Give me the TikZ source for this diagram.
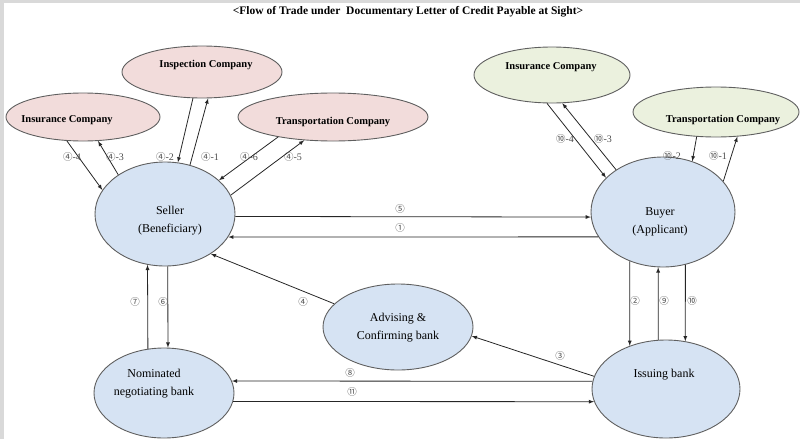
\documentclass[tikz,border=0pt]{standalone}
\usepackage{fontspec}
\setmainfont{Liberation Serif}
\newfontfamily\circfont{Noto Sans CJK SC}
\usepackage{xcolor}
\usetikzlibrary{arrows,shapes.geometric}
\definecolor{pinkfill}{HTML}{F2DCDB}
\definecolor{greenfill}{HTML}{EBF1DE}
\definecolor{bluefill}{HTML}{D6E3F3}
\definecolor{rim}{HTML}{5F5F5F}
\definecolor{framegray}{HTML}{D9D9D9}
\newcommand{\encl}[1]{{\circfont\fontsize{9.5}{10}\selectfont #1}}

\begin{document}
\begin{tikzpicture}[x=1pt,y=-1pt,>=latex,
	blob/.style={ellipse,draw=rim,line width=0.9pt,inner sep=0pt},
	pinkco/.style={blob,fill=pinkfill},
	greenco/.style={blob,fill=greenfill},
	party/.style={blob,fill=bluefill},
	coname/.style={font=\fontsize{10.5}{12}\selectfont\bfseries},
	pname/.style={font=\fontsize{12}{18}\selectfont,align=center},
	num/.style={font=\fontsize{10}{10}\selectfont,text=black!70,inner sep=0pt},
	flow/.style={->,line width=0.8pt,draw=black!85}]
	\useasboundingbox (0,0) rectangle (800,439);
	\fill[framegray] (0,0) rectangle (800,3);
	\fill[framegray] (0,0) rectangle (4,439);

	\node[font=\fontsize{11.5}{13}\selectfont\bfseries] (title) at (408,12) {\textless Flow of Trade under\ \ Documentary Letter of Credit Payable at Sight\textgreater};

	\node[pinkco,minimum width=154,minimum height=48] (insL) at (83,117) {};
	\node[pinkco,minimum width=160,minimum height=52] (insp) at (202,72) {};
	\node[pinkco,minimum width=190,minimum height=48] (trL) at (333,117) {};
	\node[greenco,minimum width=156,minimum height=56] (insR) at (552,75) {};
	\node[greenco,minimum width=166,minimum height=50] (trR) at (716,112) {};
	\node[party,minimum width=140,minimum height=104] (seller) at (165,214) {};
	\node[party,minimum width=144,minimum height=110] (buyer) at (663,212) {};
	\node[party,minimum width=150,minimum height=86] (adv) at (398,327) {};
	\node[party,minimum width=140,minimum height=90] (nom) at (164,393) {};
	\node[party,minimum width=148,minimum height=98] (iss) at (666,389) {};

	\node[coname] (tInsL) at (67,120) {Insurance Company};
	\node[coname] (tInsp) at (206,65) {Inspection Company};
	\node[coname] (tTrL) at (333,122) {Transportation Company};
	\node[coname] (tInsR) at (551,67) {Insurance Company};
	\node[coname] (tTrR) at (723,120) {Transportation Company};
	\node[pname] (tSeller) at (170,221) {Seller\\(Beneficiary)};
	\node[pname] (tBuyer) at (660,222) {Buyer\\(Applicant)};
	\node[pname] (tAdv) at (398,328) {Advising \&\\Confirming bank};
	\node[pname] (tNom) at (154,384) {Nominated\\negotiating bank};
	\node[pname] (tIss) at (664,375) {Issuing bank};

	\draw[flow] (seller.-2) -- (buyer.184);
	\draw[flow] (buyer.201) -- (seller.-20);
	\draw[flow] (adv.160) -- (seller.-41);
	\draw[flow] (iss.170) -- (adv.-7);
	\draw[flow] (iss.174) -- (nom.10);
	\draw[flow] (nom.-7) -- (iss.190);
	\draw[flow] (nom.110) -- (seller.251);
	\draw[flow] (seller.273) -- (nom.85);
	\draw[flow] (buyer.236) -- (iss.130);
	\draw[flow] (iss.99) -- (buyer.265);
	\draw[flow] (buyer.293) -- (iss.68);
	\draw[flow] (insL.236) -- (seller.159);
	\draw[flow] (seller.140) -- (insL.302);
	\draw[flow] (insp.251) -- (seller.76);
	\draw[flow] (seller.63) -- (insp.283);
	\draw[flow] (trL.200) -- (seller.32);
	\draw[flow] (seller.16) -- (trL.219);
	\draw[flow] (insR.260) -- (buyer.149);
	\draw[flow] (buyer.138) -- (insR.290);
	\draw[flow] (trR.232) -- (buyer.60);
	\draw[flow] (buyer.27) -- (trR.311);

	\node[num] (n5) at (400,209) {\encl{⑤}};
	\node[num] (n1) at (400,228) {\encl{①}};
	\node[num] (n4) at (303,302) {\encl{④}};
	\node[num] (n3) at (560,356) {\encl{③}};
	\node[num] (n8) at (350,373) {\encl{⑧}};
	\node[num] (n11) at (352,392) {\encl{⑪}};
	\node[num] (n7) at (135,302) {\encl{⑦}};
	\node[num] (n6) at (163,302) {\encl{⑥}};
	\node[num] (n2) at (635,301) {\encl{②}};
	\node[num] (n9) at (664,301) {\encl{⑨}};
	\node[num] (n10) at (692,301) {\encl{⑩}};
	\node[num] (n4d) at (72,157) {\encl{④}-4};
	\node[num] (n4c) at (115,157) {\encl{④}-3};
	\node[num] (n4b) at (165,157) {\encl{④}-2};
	\node[num] (n4a) at (210,157) {\encl{④}-1};
	\node[num] (n4f) at (249,157) {\encl{④}-6};
	\node[num] (n4e) at (293,157) {\encl{④}-5};
	\node[num] (n10d) at (565,139) {\encl{⑩}-4};
	\node[num] (n10c) at (603,139) {\encl{⑩}-3};
	\node[num] (n10b) at (672,156) {\encl{⑩}-2};
	\node[num] (n10a) at (718,156) {\encl{⑩}-1};
\end{tikzpicture}
\end{document}
